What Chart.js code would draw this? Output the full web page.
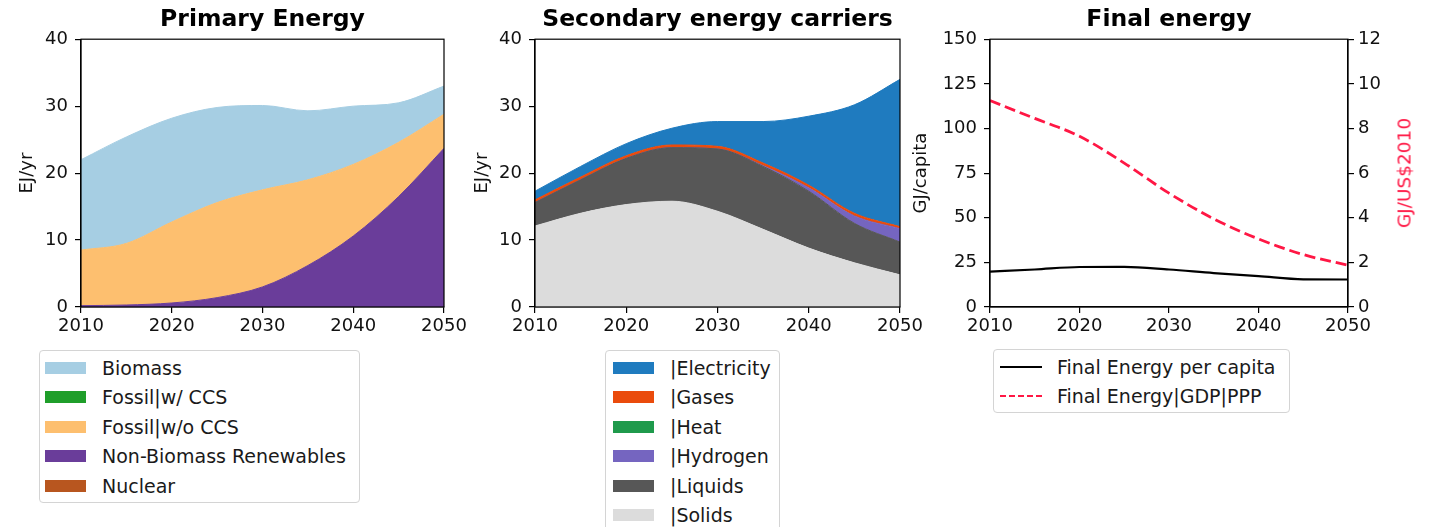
<!DOCTYPE html>
<html>
<head>
<meta charset="utf-8">
<script src="https://cdn.jsdelivr.net/npm/chart.js@4.4.1/dist/chart.umd.min.js"></script>
<style>
  body { margin: 0; background: #fff; font-family: "DejaVu Sans", sans-serif; }
  #page { position: relative; width: 1431px; height: 527px; overflow: hidden; background: #fff; }
  canvas { position: absolute; top: 0; }
  .legend { position: absolute; box-sizing: border-box; border: 1px solid #d4d4d4; border-radius: 4px;
            background: rgba(255,255,255,0.85); font-size: 19px; color: #1a1a1a; z-index: 2; }
  .legend .row { display: flex; align-items: center; height: 29.5px; white-space: nowrap; }
  .legend .swatch { width: 41px; height: 12px; flex: none; }
  .legend .line { width: 42px; height: 0; flex: none; }
  #rightTitle { position: absolute; left: 1404px; top: 173px; transform: translate(-50%, -50%) rotate(-90deg);
                font-size: 18.5px; color: #ff1744; white-space: nowrap; z-index: 2; }
</style>
</head>
<body>
<div id="page">
  <canvas id="primary" width="480" height="340" style="left:0px"></canvas>
  <canvas id="secondary" width="480" height="340" style="left:460px"></canvas>
  <canvas id="final" width="531" height="340" style="left:900px"></canvas>
  <div id="rightTitle">GJ/US$2010</div>
  <div class="legend" id="legPrimary" style="left:39px;top:350px;width:321px;height:153px;padding:2px 0 0 5px"></div>
  <div class="legend" id="legSecondary" style="left:605px;top:350px;width:175px;height:190px;padding:2px 0 0 7px"></div>
  <div class="legend" id="legFinal" style="left:993px;top:349px;width:297px;height:64px;padding:2px 0 0 6px"></div>
</div>
<script>
// annees
const years = [2010, 2015, 2020, 2025, 2030, 2035, 2040, 2045, 2050];

// Primary Energy (EJ/yr)
const primaryLabels = ['Biomass', 'Fossil|w/ CCS', 'Fossil|w/o CCS', 'Non-Biomass Renewables', 'Nuclear'];
const primaryColors = ['#a6cee3', '#1f9e2a', '#fdbf6f', '#6a3d9a', '#b8561f'];
const biomass      = [13.5, 15.9, 15.5, 14.2, 12.6, 10.3, 8.7, 5.9, 4.2];
const fossilCcs    = [0, 0, 0, 0, 0, 0, 0, 0, 0];
const fossilNoCcs  = [8.3, 9.2, 12.1, 14.2, 14.5, 12.8, 10.7, 8.1, 5.1];
const renewables   = [0.2, 0.3, 0.6, 1.4, 3.0, 6.2, 10.6, 16.5, 23.7];
const nuclear      = [0, 0, 0, 0, 0, 0, 0, 0, 0];
const primaryValues = [biomass, fossilCcs, fossilNoCcs, renewables, nuclear];

// Secondary energy carriers (EJ/yr)
const secondaryLabels = ['|Electricity', '|Gases', '|Heat', '|Hydrogen', '|Liquids', '|Solids'];
const secondaryColors = ['#1f7bbf', '#ea4b0c', '#1f9a4c', '#7565c0', '#575757', '#dcdcdc'];
const electricity = [1.3, 1.6, 1.8, 2.5, 3.7, 6.2, 10.3, 16.2, 22.0];
const gases       = [0.4, 0.4, 0.4, 0.4, 0.4, 0.4, 0.4, 0.4, 0.3];
const heat        = [0, 0, 0, 0, 0, 0, 0, 0, 0];
const hydrogen    = [0, 0, 0, 0, 0, 0.1, 0.5, 1.1, 2.0];
const liquids     = [3.5, 5.0, 6.9, 8.0, 9.3, 9.4, 8.5, 5.9, 4.9];
const solids      = [12.1, 14.0, 15.3, 15.8, 14.3, 11.6, 8.8, 6.6, 4.8];
const secondaryValues = [electricity, gases, heat, hydrogen, liquids, solids];

// Final energy
const finalLabels = ['Final Energy per capita', 'Final Energy|GDP|PPP'];
const perCapita    = [19.8, 21.0, 22.4, 22.5, 21.0, 19.0, 17.3, 15.5, 15.4];   // GJ/capita
const gdpIntensity = [9.25, 8.45, 7.65, 6.45, 5.1, 3.95, 3.05, 2.35, 1.87];    // GJ/US$2010

const TXT = '#111';
Chart.defaults.font.family = '"DejaVu Sans", sans-serif';

// cadre noir autour de la zone du graphique
const frame = {
  id: 'frame',
  afterDraw(chart) {
    const { ctx, chartArea: a } = chart;
    ctx.save();
    ctx.strokeStyle = '#000';
    ctx.lineWidth = 1.2;
    ctx.strokeRect(a.left, a.top, a.right - a.left, a.bottom - a.top);
    ctx.restore();
  }
};

function toPoints(values) {
  return values.map((v, i) => ({ x: years[i], y: v }));
}

function xAxis() {
  return {
    type: 'linear', min: 2010, max: 2050,
    grid: { drawOnChartArea: false, drawTicks: true, tickLength: 6, color: '#000', lineWidth: 1.2 },
    border: { display: true, color: '#000', width: 1.2 },
    ticks: { stepSize: 10, padding: 3, color: TXT, font: { size: 18 }, maxRotation: 0,
             callback: v => String(v) },
    afterFit: s => { s.height = 33; }
  };
}

function yAxis(max, step, width, title, titlePad, position) {
  return {
    position: position || 'left',
    min: 0, max: max,
    grid: { drawOnChartArea: false, drawTicks: true, tickLength: 6, color: '#000', lineWidth: 1.2 },
    border: { display: true, color: '#000', width: 1.2 },
    ticks: { stepSize: step, padding: position === 'right' ? 4 : 7, color: TXT, font: { size: 18 } },
    title: { display: !!title, text: title || '', color: TXT, font: { size: 18 },
             padding: { top: titlePad || 0, bottom: 0 } },
    afterFit: s => { s.width = width; }
  };
}

function titleOpts(text) {
  return { display: true, text: text, fullSize: false, color: '#000',
           font: { size: 23.5, weight: 'bold' }, padding: { top: 6, bottom: 5 } };
}

// aires empilees : la derniere serie de la legende est en bas
function stackedDatasets(labels, colors, values) {
  const sets = [];
  for (let i = labels.length - 1; i >= 0; i--) {
    const empty = values[i].every(v => v === 0);
    sets.push({
      label: labels[i],
      data: toPoints(values[i]),
      backgroundColor: colors[i],
      borderColor: empty ? 'rgba(0,0,0,0)' : colors[i],
      borderWidth: 1,
      pointRadius: 0,
      fill: sets.length === 0 ? 'origin' : '-1',
      cubicInterpolationMode: 'monotone'
    });
  }
  return sets;
}

function areaChart(id, title, labels, colors, values, yWidth, padRight, titlePad) {
  const x = xAxis();
  const y = yAxis(40, 10, yWidth, 'EJ/yr', titlePad);
  y.stacked = true;
  return new Chart(document.getElementById(id), {
    type: 'line',
    data: { datasets: stackedDatasets(labels, colors, values) },
    options: {
      responsive: false, animation: false, devicePixelRatio: 1,
      layout: { padding: { left: 0, right: padRight, top: 0, bottom: 0 } },
      plugins: { legend: { display: false }, tooltip: { enabled: false }, title: titleOpts(title) },
      scales: { x: x, y: y }
    },
    plugins: [frame]
  });
}

areaChart('primary', 'Primary Energy', primaryLabels, primaryColors, primaryValues, 81, 36, 17);
areaChart('secondary', 'Secondary energy carriers', secondaryLabels, secondaryColors, secondaryValues, 75, 40, 12);

new Chart(document.getElementById('final'), {
  type: 'line',
  data: {
    datasets: [{
      label: finalLabels[0],
      data: toPoints(perCapita),
      borderColor: '#000', borderWidth: 2.2, pointRadius: 0, fill: false,
      cubicInterpolationMode: 'monotone', yAxisID: 'y'
    }, {
      label: finalLabels[1],
      data: toPoints(gdpIntensity),
      borderColor: '#ff1744', borderWidth: 2.8, borderDash: [11, 5], pointRadius: 0, fill: false,
      cubicInterpolationMode: 'monotone', yAxisID: 'y1'
    }]
  },
  options: {
    responsive: false, animation: false, devicePixelRatio: 1,
    layout: { padding: { left: 0, right: 0, top: 0, bottom: 0 } },
    plugins: { legend: { display: false }, tooltip: { enabled: false }, title: titleOpts('Final energy') },
    scales: {
      x: xAxis(),
      y: yAxis(150, 25, 90, 'GJ/capita', 11),
      y1: yAxis(12, 2, 83, '', 0, 'right')
    }
  },
  plugins: [frame]
});

// legendes HTML
function fillLegend(id, labels, colors) {
  const box = document.getElementById(id);
  labels.forEach((lab, i) => {
    const row = document.createElement('div');
    row.className = 'row';
    row.innerHTML = '<span class="swatch" style="background:' + colors[i] + '"></span>' +
                    '<span style="margin-left:16px">' + lab + '</span>';
    box.appendChild(row);
  });
}
fillLegend('legPrimary', primaryLabels, primaryColors);
fillLegend('legSecondary', secondaryLabels, secondaryColors);

const legFinal = document.getElementById('legFinal');
const lineStyles = ['2px solid #000', '2.5px dashed #ff1744'];
finalLabels.forEach((lab, i) => {
  const row = document.createElement('div');
  row.className = 'row';
  row.innerHTML = '<span class="line" style="border-top:' + lineStyles[i] + '"></span>' +
                  '<span style="margin-left:15px">' + lab + '</span>';
  legFinal.appendChild(row);
});
</script>
</body>
</html>
